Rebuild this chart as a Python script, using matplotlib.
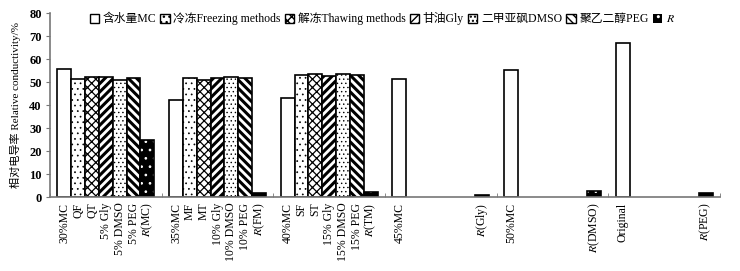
import matplotlib
matplotlib.use('Agg')
import matplotlib.pyplot as plt
import matplotlib.patches as patches
import numpy as np

plt.rcParams['font.family'] = ['Liberation Serif', 'Noto Sans CJK SC']
plt.rcParams['mathtext.fontset'] = 'stix'

nan = np.nan

# one entry per category (6 clusters)
mc = [55.5, 42.0, 43.0, 51.5, 55.2, 67.0]
freezing = [51.5, 51.8, 53.0, nan, nan, nan]
thawing = [52.3, 51.0, 53.4, nan, nan, nan]
gly = [52.3, 51.6, 52.6, nan, nan, nan]
dmso = [51.0, 52.2, 53.6, nan, nan, nan]
peg = [51.9, 51.6, 53.0, nan, nan, nan]
r_val = [25.0, 1.6, 2.3, 1.0, 2.8, 1.6]

# label under each bar, cluster by cluster
bar_labels = [
    ['30%MC', 'QF', 'QT', '5% Gly', '5% DMSO', '5% PEG', '$R$(MC)'],
    ['35%MC', 'MF', 'MT', '10% Gly', '10% DMSO', '10% PEG', '$R$(FM)'],
    ['40%MC', 'SF', 'ST', '15% Gly', '15% DMSO', '15% PEG', '$R$(TM)'],
    ['45%MC', '', '', '', '', '', '$R$(Gly)'],
    ['50%MC', '', '', '', '', '', '$R$(DMSO)'],
    ['Original', '', '', '', '', '', '$R$(PEG)'],
]

series_names = ['含水量MC', '冷冻Freezing methods', '解冻Thawing methods',
                '甘油Gly', '二甲亚砜DMSO', '聚乙二醇PEG', '$R$']
series = [mc, freezing, thawing, gly, dmso, peg, r_val]
hatches = ['', '...', 'xxxx', '////', '....', '\\\\\\\\', '..']
hatch_lw = [1.0, 0.5, 0.9, 2.2, 0.5, 2.2, 0.7]

fig = plt.figure(figsize=(7.4, 2.71), dpi=100)
ax = fig.add_axes([0.0676, 0.273, 0.9054, 0.679])

w = 0.124
cats = np.arange(len(mc))
handles = []
for j, (vals, hat) in enumerate(zip(series, hatches)):
    xs = cats + (j - 3) * w
    with plt.rc_context({'hatch.linewidth': hatch_lw[j]}):
        if j == 6:
            # black bars with white dots
            ax.bar(xs, vals, w, color='black', edgecolor='white', hatch=hat, linewidth=0)
            ax.bar(xs, vals, w, fill=False, edgecolor='black', linewidth=1.2)
            h = patches.Patch(facecolor='black', edgecolor='white', hatch='..', linewidth=0)
        else:
            ax.bar(xs, vals, w, color='white', edgecolor='black', hatch=hat, linewidth=1.2)
            h = patches.Patch(facecolor='white', edgecolor='black', hatch=hat, linewidth=1.0)
    handles.append(h)

ax.set_xlim(-0.5, 5.5)
ax.set_ylim(0, 80)
ax.set_yticks(np.arange(0, 81, 10))

pos = [c + (j - 3) * w for c in cats for j in range(7)]
labs = [l for row in bar_labels for l in row]
ax.set_xticks(pos)
ax.set_xticklabels(labs, rotation=90, fontsize=8.5, va='top', ha='center')
ax.tick_params(axis='x', which='major', length=0, pad=4)
ax.set_xticks(np.arange(-0.5, 5.51, 0.5), minor=True)
ax.tick_params(axis='x', which='minor', direction='in', length=3, color='#777777')
ax.tick_params(axis='y', direction='out', length=3, color='#777777', labelsize=9, pad=3)
for t in ax.get_yticklabels():
    t.set_fontweight('bold')

for s in ['top', 'right']:
    ax.spines[s].set_visible(False)
for s in ['left', 'bottom']:
    ax.spines[s].set_color('#777777')
    ax.spines[s].set_linewidth(1.2)

ax.set_ylabel('相对电导率 Relative conductivity/%', fontsize=8, labelpad=6)

ax.legend(handles, series_names, loc='upper left', bbox_to_anchor=(0.052, 1.03),
          ncol=7, frameon=False, fontsize=8.5, handlelength=0.8, handleheight=0.8,
          handletextpad=0.3, columnspacing=0.35, borderaxespad=0)

fig.savefig('out.png', dpi=100)
